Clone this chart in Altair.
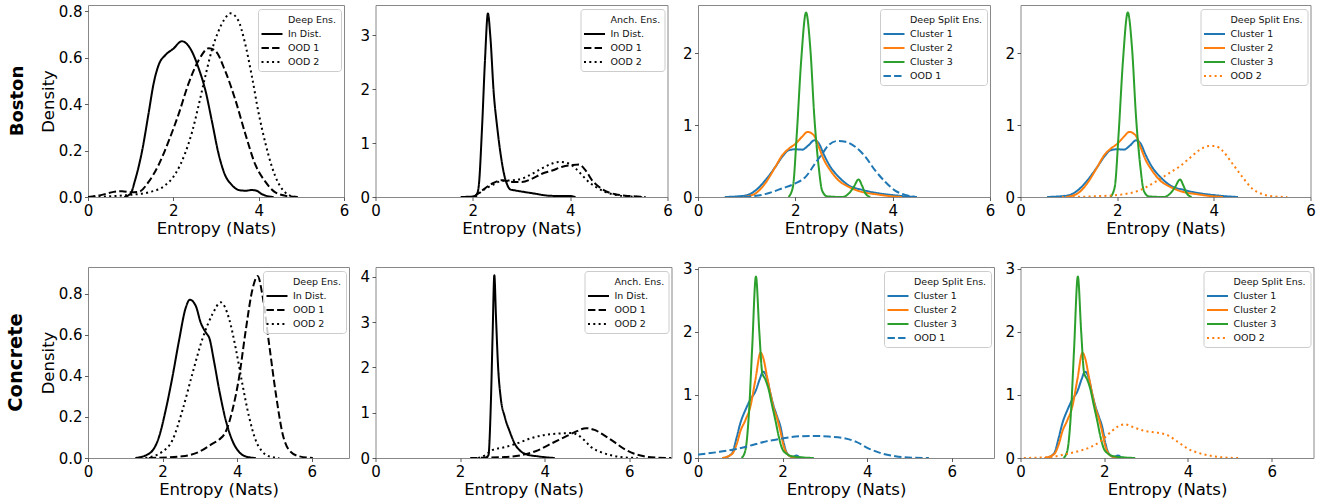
import altair as alt
import pandas as pd

FONT = "DejaVu Sans"
BLUE, ORANGE, GREEN, BLACK = "#1f77b4", "#ff7f0e", "#2ca02c", "#000000"
SOLID, DASH, DOT = [1, 0], [7.4, 3.2], [2, 3.3]

# ---------------- Boston, Deep Ens. ----------------
bos_deep_in_x = [0.85, 1.0, 1.1, 1.27, 1.42, 1.54, 1.66, 1.81, 2.0, 2.2, 2.4, 2.6, 2.75, 2.9, 3.06, 3.2, 3.38, 3.53, 3.7, 3.84, 3.95, 4.06, 4.22, 4.35]
bos_deep_in_y = [0.0, 0.015, 0.07, 0.2, 0.36, 0.49, 0.57, 0.61, 0.638, 0.67, 0.638, 0.55, 0.46, 0.33, 0.186, 0.10, 0.05, 0.03, 0.027, 0.03, 0.027, 0.014, 0.003, 0.0]
bos_deep_o1_x = [0.0, 0.3, 0.6, 0.8, 1.0, 1.19, 1.42, 1.66, 1.89, 2.13, 2.36, 2.6, 2.83, 2.98, 3.22, 3.45, 3.69, 3.92, 4.16, 4.39, 4.7, 4.94]
bos_deep_o1_y = [0.0, 0.008, 0.022, 0.025, 0.02, 0.022, 0.065, 0.14, 0.24, 0.36, 0.49, 0.59, 0.64, 0.63, 0.54, 0.42, 0.27, 0.14, 0.065, 0.02, 0.003, 0.0]
bos_deep_o2_x = [0.0, 0.5, 1.03, 1.42, 1.81, 2.05, 2.28, 2.44, 2.6, 2.75, 2.9, 3.05, 3.2, 3.34, 3.52, 3.67, 3.84, 4.0, 4.16, 4.31, 4.47, 4.62, 4.78, 4.9]
bos_deep_o2_y = [0.0, 0.003, 0.01, 0.02, 0.05, 0.1, 0.19, 0.28, 0.40, 0.52, 0.63, 0.71, 0.765, 0.79, 0.76, 0.67, 0.52, 0.36, 0.23, 0.13, 0.057, 0.02, 0.003, 0.0]

# ---------------- Boston, Anch. Ens. ----------------
bos_anch_in_x = [1.75, 2.0, 2.08, 2.12, 2.19, 2.25, 2.31, 2.36, 2.43, 2.5, 2.57, 2.64, 2.71, 2.77, 2.88, 3.08, 3.29, 3.49, 3.7, 3.97, 4.11]
bos_anch_in_y = [0.0, 0.01, 0.05, 0.19, 1.3, 2.54, 3.4, 2.97, 1.92, 1.3, 0.8, 0.43, 0.22, 0.14, 0.12, 0.09, 0.06, 0.03, 0.02, 0.02, 0.0]
bos_anch_o1_x = [2.02, 2.19, 2.4, 2.6, 2.81, 3.01, 3.22, 3.42, 3.63, 3.84, 4.04, 4.18, 4.32, 4.45, 4.59, 4.73, 4.93, 5.2, 5.55]
bos_anch_o1_y = [0.0, 0.12, 0.25, 0.31, 0.28, 0.28, 0.34, 0.43, 0.49, 0.56, 0.59, 0.6, 0.49, 0.31, 0.19, 0.11, 0.05, 0.02, 0.0]
bos_anch_o2_x = [2.05, 2.19, 2.4, 2.6, 2.81, 3.01, 3.22, 3.42, 3.63, 3.77, 3.97, 4.11, 4.25, 4.38, 4.52, 4.73, 4.93, 5.2, 5.48]
bos_anch_o2_y = [0.0, 0.11, 0.22, 0.3, 0.31, 0.34, 0.43, 0.53, 0.62, 0.65, 0.62, 0.53, 0.4, 0.28, 0.19, 0.09, 0.04, 0.01, 0.0]

# ---------------- Boston, Deep Split Ens. ----------------
bos_c1_x = [0.55, 0.97, 1.18, 1.38, 1.59, 1.73, 1.86, 2.0, 2.14, 2.27, 2.39, 2.48, 2.58, 2.72, 2.89, 3.1, 3.37, 3.64, 3.92, 4.19, 4.5]
bos_c1_y = [0.0, 0.02, 0.09, 0.23, 0.42, 0.56, 0.65, 0.665, 0.66, 0.72, 0.79, 0.75, 0.6, 0.42, 0.28, 0.16, 0.1, 0.06, 0.033, 0.014, 0.0]
bos_c2_x = [0.94, 1.18, 1.38, 1.59, 1.73, 1.86, 2.0, 2.14, 2.25, 2.38, 2.48, 2.58, 2.72, 2.89, 3.1, 3.37, 3.64, 3.92, 4.19]
bos_c2_y = [0.0, 0.05, 0.19, 0.42, 0.58, 0.67, 0.74, 0.84, 0.907, 0.86, 0.7, 0.53, 0.37, 0.23, 0.14, 0.07, 0.04, 0.014, 0.0]
bos_c3_x = [1.86, 1.95, 2.03, 2.12, 2.22, 2.31, 2.39, 2.48, 2.55, 2.65, 2.96, 3.1, 3.2, 3.3, 3.37, 3.44, 3.54]
bos_c3_y = [0.0, 0.14, 0.88, 1.9, 2.57, 2.05, 1.12, 0.42, 0.09, 0.01, 0.0, 0.05, 0.14, 0.245, 0.16, 0.05, 0.0]
bos_split_o1_x = [0.94, 1.38, 1.73, 2.0, 2.21, 2.41, 2.55, 2.68, 2.86, 3.03, 3.23, 3.44, 3.64, 3.85, 4.05, 4.26, 4.47]
bos_split_o1_y = [0.0, 0.04, 0.12, 0.19, 0.28, 0.47, 0.6, 0.72, 0.78, 0.77, 0.7, 0.56, 0.37, 0.21, 0.09, 0.03, 0.0]
bos_split_o2_x = [0.86, 1.55, 2.03, 2.45, 2.79, 3.07, 3.28, 3.48, 3.69, 3.9, 4.03, 4.17, 4.38, 4.59, 4.79, 5.0, 5.21, 5.52]
bos_split_o2_y = [0.0, 0.01, 0.03, 0.09, 0.21, 0.33, 0.42, 0.53, 0.65, 0.71, 0.71, 0.65, 0.47, 0.28, 0.12, 0.04, 0.01, 0.0]

# ---------------- Concrete, Deep Ens. ----------------
con_deep_in_x = [1.27, 1.63, 1.9, 2.08, 2.26, 2.44, 2.62, 2.73, 2.89, 3.02, 3.16, 3.26, 3.38, 3.52, 3.7, 3.87, 4.05, 4.28, 4.5]
con_deep_in_y = [0.0, 0.02, 0.1, 0.23, 0.39, 0.57, 0.73, 0.77, 0.74, 0.66, 0.61, 0.58, 0.47, 0.33, 0.18, 0.085, 0.03, 0.005, 0.0]
con_deep_o1_x = [1.63, 2.53, 2.98, 3.34, 3.52, 3.7, 3.87, 4.05, 4.23, 4.41, 4.55, 4.68, 4.86, 5.04, 5.22, 5.4, 5.67, 6.03]
con_deep_o1_y = [0.0, 0.008, 0.03, 0.07, 0.09, 0.13, 0.23, 0.39, 0.62, 0.82, 0.885, 0.79, 0.55, 0.31, 0.117, 0.037, 0.008, 0.0]
con_deep_o2_x = [1.54, 1.99, 2.26, 2.53, 2.8, 3.07, 3.34, 3.56, 3.78, 3.96, 4.14, 4.32, 4.5, 4.68, 4.86, 5.13]
con_deep_o2_y = [0.0, 0.03, 0.085, 0.23, 0.41, 0.58, 0.7, 0.757, 0.68, 0.535, 0.36, 0.2, 0.085, 0.03, 0.008, 0.0]

# ---------------- Concrete, Anch. Ens. ----------------
con_anch_in_x = [2.59, 2.67, 2.73, 2.77, 2.81, 2.85, 2.9, 2.96, 3.06, 3.18, 3.29, 3.41, 3.57, 3.84, 4.24]
con_anch_in_y = [0.0, 0.06, 1.27, 2.74, 4.04, 3.1, 2.0, 1.34, 0.9, 0.57, 0.32, 0.17, 0.08, 0.037, 0.0]
con_anch_o1_x = [2.24, 3.06, 3.53, 3.84, 4.16, 4.47, 4.71, 4.98, 5.18, 5.41, 5.65, 5.88, 6.12, 6.35, 6.67, 7.0]
con_anch_o1_y = [0.0, 0.02, 0.08, 0.17, 0.32, 0.46, 0.57, 0.66, 0.62, 0.5, 0.35, 0.2, 0.095, 0.037, 0.007, 0.0]
con_anch_o2_x = [2.43, 2.59, 2.75, 3.06, 3.37, 3.69, 4.0, 4.31, 4.63, 4.78, 4.94, 5.1, 5.33, 5.57, 5.8, 6.2]
con_anch_o2_y = [0.0, 0.06, 0.17, 0.24, 0.33, 0.44, 0.51, 0.54, 0.55, 0.51, 0.39, 0.24, 0.13, 0.06, 0.02, 0.0]

# ---------------- Concrete, Deep Split Ens. ----------------
con_c1_x = [0.61, 0.8, 0.92, 1.0, 1.12, 1.24, 1.36, 1.46, 1.54, 1.63, 1.71, 1.79, 1.87, 1.95, 2.03, 2.11, 2.23, 2.33, 2.42, 2.54]
con_c1_y = [0.0, 0.07, 0.34, 0.55, 0.76, 0.93, 1.06, 1.25, 1.37, 1.27, 1.03, 0.82, 0.66, 0.5, 0.23, 0.07, 0.016, 0.04, 0.005, 0.0]
con_c2_x = [0.57, 0.8, 0.92, 1.0, 1.12, 1.24, 1.36, 1.48, 1.55, 1.63, 1.71, 1.79, 1.87, 1.95, 2.03, 2.15, 2.3, 2.46]
con_c2_y = [0.0, 0.06, 0.23, 0.42, 0.6, 0.82, 1.25, 1.67, 1.57, 1.3, 1.03, 0.79, 0.63, 0.42, 0.18, 0.04, 0.005, 0.0]
con_c3_x = [1.03, 1.12, 1.2, 1.28, 1.37, 1.45, 1.52, 1.59, 1.67, 1.75, 1.83, 1.91, 1.99, 2.11, 2.23, 2.46, 2.74]
con_c3_y = [0.0, 0.12, 0.66, 1.73, 2.88, 2.0, 1.35, 1.25, 1.09, 0.84, 0.6, 0.34, 0.15, 0.06, 0.027, 0.01, 0.0]
con_split_o1_x = [0.0, 0.49, 0.88, 1.2, 1.59, 1.99, 2.3, 2.7, 3.09, 3.41, 3.73, 4.04, 4.36, 4.67, 5.07, 5.46]
con_split_o1_y = [0.053, 0.096, 0.14, 0.19, 0.26, 0.31, 0.34, 0.35, 0.34, 0.32, 0.26, 0.15, 0.07, 0.027, 0.005, 0.0]
con_split_o2_x = [0.08, 0.75, 1.07, 1.38, 1.7, 1.94, 2.17, 2.33, 2.49, 2.65, 2.96, 3.28, 3.52, 3.75, 3.99, 4.31, 4.62, 4.94, 5.26]
con_split_o2_y = [0.0, 0.016, 0.06, 0.107, 0.18, 0.28, 0.42, 0.5, 0.535, 0.5, 0.43, 0.4, 0.36, 0.26, 0.15, 0.07, 0.027, 0.005, 0.0]

# ---------------- tick labels / axis ranges ----------------
x_ticks = [0, 2, 4, 6]
y_ticks_deep_bos = [0.0, 0.2, 0.4, 0.6, 0.8]
y_ticks_deep_con = [0.0, 0.2, 0.4, 0.6, 0.8]
y_ticks_anch_bos = [0, 1, 2, 3]
y_ticks_anch_con = [0, 1, 2, 3, 4]
y_ticks_split_bos = [0, 1, 2]
y_ticks_split_con = [0, 1, 2, 3]

LEGEND_SYMBOL = "M-1.75,0H1.75"


def make_frame(curves):
    rows = []
    for name, xs, ys in curves:
        for a, b in zip(xs, ys):
            rows.append({"series": name, "x": a, "y": b})
    return pd.DataFrame(rows)


def panel(curves, head, styles, xmax, ymax, yticks, yfmt, width, height,
          first=False, row_label=None, row_size=17):
    df = make_frame(curves)
    domain = [head] + [s[0] for s in styles]
    c_range = ["rgba(0,0,0,0)"] + [s[1] for s in styles]
    d_range = [SOLID] + [s[2] for s in styles]
    leg = alt.Legend(
        title=None, orient="top-right", offset=3.5, padding=4,
        fillColor="rgba(255,255,255,0.8)", strokeColor="#cccccc", cornerRadius=3,
        labelFont=FONT, labelFontSize=9.5, labelColor="#111", labelLimit=200,
        symbolType=LEGEND_SYMBOL, symbolSize=144, symbolStrokeWidth=2,
        symbolOffset=3, labelOffset=9, rowPadding=2,
    )
    ch = alt.Chart(df).mark_line(strokeWidth=2, interpolate="monotone", clip=True).encode(
        x=alt.X("x:Q", scale=alt.Scale(domain=[0, xmax], nice=False, zero=False),
                axis=alt.Axis(values=x_ticks, title="Entropy (Nats)", labelFlush=False, format="d")),
        y=alt.Y("y:Q", scale=alt.Scale(domain=[0, ymax], nice=False, zero=False),
                axis=alt.Axis(values=yticks, format=yfmt, title="Density" if first else None)),
        color=alt.Color("series:N", scale=alt.Scale(domain=domain, range=c_range), legend=leg),
        strokeDash=alt.StrokeDash("series:N", scale=alt.Scale(domain=domain, range=d_range), legend=leg),
    ).properties(width=width, height=height)
    if row_label:
        ch = ch.properties(title=alt.TitleParams(
            text=row_label, orient="left", anchor="middle", font=FONT,
            fontSize=row_size, fontWeight="bold", color="black", offset=13.5))
    return ch


bw_styles = [("In Dist.", BLACK, SOLID), ("OOD 1", BLACK, DASH), ("OOD 2", BLACK, DOT)]
split1_styles = [("Cluster 1", BLUE, SOLID), ("Cluster 2", ORANGE, SOLID), ("Cluster 3", GREEN, SOLID), ("OOD 1", BLUE, DASH)]
split2_styles = [("Cluster 1", BLUE, SOLID), ("Cluster 2", ORANGE, SOLID), ("Cluster 3", GREEN, SOLID), ("OOD 2", ORANGE, DOT)]

H1, H2 = 192, 191

cells = [
    panel([("In Dist.", bos_deep_in_x, bos_deep_in_y), ("OOD 1", bos_deep_o1_x, bos_deep_o1_y), ("OOD 2", bos_deep_o2_x, bos_deep_o2_y)],
          "Deep Ens.", bw_styles, 6, 0.826, y_ticks_deep_bos, ".1f", 256, H1, first=True, row_label="Boston", row_size=18),
    panel([("In Dist.", bos_anch_in_x, bos_anch_in_y), ("OOD 1", bos_anch_o1_x, bos_anch_o1_y), ("OOD 2", bos_anch_o2_x, bos_anch_o2_y)],
          "Anch. Ens.", bw_styles, 6, 3.556, y_ticks_anch_bos, "d", 292, H1),
    panel([("Cluster 1", bos_c1_x, bos_c1_y), ("Cluster 2", bos_c2_x, bos_c2_y), ("Cluster 3", bos_c3_x, bos_c3_y), ("OOD 1", bos_split_o1_x, bos_split_o1_y)],
          "Deep Split Ens.", split1_styles, 6, 2.675, y_ticks_split_bos, "d", 292, H1),
    panel([("Cluster 1", bos_c1_x, bos_c1_y), ("Cluster 2", bos_c2_x, bos_c2_y), ("Cluster 3", bos_c3_x, bos_c3_y), ("OOD 2", bos_split_o2_x, bos_split_o2_y)],
          "Deep Split Ens.", split2_styles, 6, 2.675, y_ticks_split_bos, "d", 290, H1),
    panel([("In Dist.", con_deep_in_x, con_deep_in_y), ("OOD 1", con_deep_o1_x, con_deep_o1_y), ("OOD 2", con_deep_o2_x, con_deep_o2_y)],
          "Deep Ens.", bw_styles, 7, 0.929, y_ticks_deep_con, ".1f", 261, H2, first=True, row_label="Concrete", row_size=19.5),
    panel([("In Dist.", con_anch_in_x, con_anch_in_y), ("OOD 1", con_anch_o1_x, con_anch_o1_y), ("OOD 2", con_anch_o2_x, con_anch_o2_y)],
          "Anch. Ens.", bw_styles, 7, 4.22, y_ticks_anch_con, "d", 296, H2),
    panel([("Cluster 1", con_c1_x, con_c1_y), ("Cluster 2", con_c2_x, con_c2_y), ("Cluster 3", con_c3_x, con_c3_y), ("OOD 1", con_split_o1_x, con_split_o1_y)],
          "Deep Split Ens.", split1_styles, 7, 3.03, y_ticks_split_con, "d", 296, H2),
    panel([("Cluster 1", con_c1_x, con_c1_y), ("Cluster 2", con_c2_x, con_c2_y), ("Cluster 3", con_c3_x, con_c3_y), ("OOD 2", con_split_o2_x, con_split_o2_y)],
          "Deep Split Ens.", split2_styles, 7, 3.03, y_ticks_split_con, "d", 293, H2),
]

chart = alt.concat(
    *cells, columns=4, spacing={"row": 70, "column": 26.5}, align="each", bounds="flush"
).resolve_scale(
    color="independent", strokeDash="independent"
).properties(
    padding={"left": 5, "top": 3, "right": 0, "bottom": 0}, background="white"
).configure_view(
    stroke="#888888", strokeWidth=1
).configure_axis(
    domain=False, grid=False, ticks=True, tickColor="#333333", tickSize=3.5, tickWidth=0.8,
    labelFont=FONT, labelFontSize=15, labelColor="black", labelPadding=2.5,
    titleFont=FONT, titleFontSize=16.5, titleFontWeight="normal", titleColor="black", titlePadding=2,
)

chart.save("out.html", embed_options={"renderer": "svg", "actions": False})
